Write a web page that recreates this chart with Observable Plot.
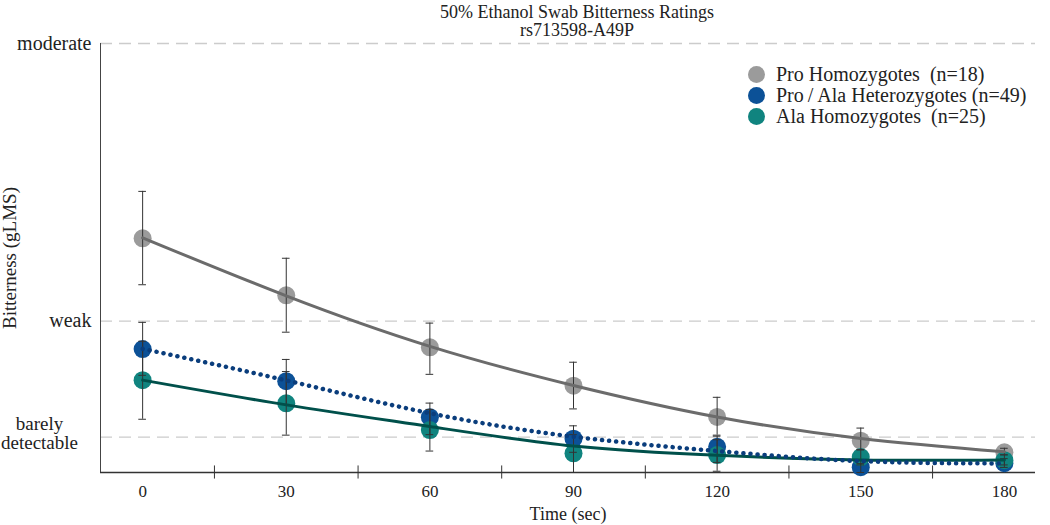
<!DOCTYPE html>
<html><head><meta charset="utf-8">
<script src="https://cdn.jsdelivr.net/npm/d3@7"></script>
<script src="https://cdn.jsdelivr.net/npm/@observablehq/plot@0.6"></script>
<style>
body{margin:0;background:#fff;}
#wrap{position:relative;width:1050px;height:525px;font-family:"Liberation Serif",serif;color:#222;}
.ttl{position:absolute;left:0;width:1154px;text-align:center;font-size:18px;line-height:18px;}
#legend{position:absolute;left:748px;top:64px;font-size:20px;line-height:21px;}
#legend .row{display:flex;align-items:center;white-space:pre;}
#legend .sw{width:17px;height:17px;border-radius:50%;margin-right:11px;}
</style></head>
<body><div id="wrap"></div>
<script>
const title = "50% Ethanol Swab Bitterness Ratings";
const subtitle = "rs713598-A49P";
const times = [0, 30, 60, 90, 120, 150, 180];
const minorTicks = [15, 45, 75, 105, 135, 165];
const groups = ["Pro Homozygotes", "Pro/Ala Heterozygotes", "Ala Homozygotes"];
const legendLabels = ["Pro Homozygotes  (n=18)", "Pro\u2009/\u2009Ala Heterozygotes (n=49)", "Ala Homozygotes  (n=25)"];
const yTickValues = [1.4, 6, 17];
const yTickLabels = ["barely\ndetectable", "weak", "moderate"];

// Pro homozygotes
const proMean = [9.28, 7.02, 4.96, 3.44, 2.2, 1.26, 0.8];
const proLo   = [7.44, 5.56, 3.89, 2.52, 1.48, 0.9, 0.7];
const proHi   = [11.14, 8.49, 5.92, 4.37, 2.98, 1.76, 0.96];
const proFit  = [9.3, 7.0, 5.0, 3.45, 2.2, 1.35, 0.82];
// Pro/Ala heterozygotes
const hetMean = [4.89, 3.62, 2.19, 1.34, 1.02, 0.21, 0.37];
const hetLo   = [3.85, 2.7, 1.5, 0.8, 0.4, 0.0, 0.2];
const hetHi   = [5.95, 4.48, 2.75, 1.85, 1.44, 0.35, 0.55];
const hetFit  = [4.9, 3.65, 2.35, 1.42, 0.85, 0.45, 0.36];
// Ala homozygotes
const alaMean = [3.66, 2.74, 1.68, 0.76, 0.69, 0.61, 0.49];
const alaLo   = [2.11, 1.48, 0.85, 0.0, 0.05, 0.3, 0.3];
const alaHi   = [5.2, 4.0, 2.5, 1.5, 1.3, 0.9, 0.7];
const alaFit  = [3.66, 2.68, 1.82, 1.05, 0.68, 0.5, 0.5];

const colors = ["#9b9b9b", "#0c5197", "#10847f"];
const lineColors = ["#6b6b6b", "#0a3d7c", "#00504b"];

const series = [[proMean, proLo, proHi, proFit], [hetMean, hetLo, hetHi, hetFit], [alaMean, alaLo, alaHi, alaFit]];
const rows = [];
series.forEach((s, i) => times.forEach((t, j) => rows.push({
  group: groups[i], gi: i, t, mean: s[0][j], lo: s[1][j], hi: s[2][j], fit: s[3][j]
})));

const wrap = document.getElementById("wrap");
const capHalf = 0.8;

const plot = Plot.plot({
  width: 1050, height: 525,
  marginTop: 43, marginBottom: 53, marginLeft: 100, marginRight: 15,
  style: {fontFamily: '"Liberation Serif", serif', color: "#222", background: "white"},
  x: {domain: [-8.8, 186.5]},
  y: {domain: [0, 17]},
  color: {domain: groups, range: colors},
  marks: [
    Plot.ruleY(yTickValues, {stroke: "#cccccc", strokeWidth: 1.3, strokeDasharray: "12,7"}),
    Plot.frame({anchor: "left", stroke: "#444", strokeWidth: 1}),
    Plot.ruleY([0], {stroke: "#333", strokeWidth: 1.3}),
    Plot.ruleX(minorTicks, {y1: -0.26, y2: 0.26, stroke: "#333", strokeWidth: 1}),
    Plot.axisX({ticks: times, tickSize: 0, tickPadding: 12, fontSize: 17, label: null}),
    Plot.axisX({ticks: [], tickSize: 0, fontSize: 18, label: "Time (sec)", labelAnchor: "center", labelOffset: 47, labelArrow: "none"}),
    Plot.axisY({ticks: [6, 17], tickFormat: d => yTickLabels[yTickValues.indexOf(d)], tickSize: 0, tickPadding: 9, fontSize: 20, label: null}),
    Plot.axisY({ticks: [], tickSize: 0, fontSize: 19, label: "Bitterness (gLMS)", labelAnchor: "center", labelOffset: 98, labelArrow: "none"}),
    Plot.axisY({ticks: [1.4], tickFormat: d => yTickLabels[yTickValues.indexOf(d)], tickSize: 0, textAnchor: "middle", dx: -52, dy: -4, fontSize: 19, label: null}),
    ...[0, 1, 2].map(i => Plot.dot(rows.filter(d => d.gi === i), {x: "t", y: "mean", r: 9, fill: colors[i]})),
    Plot.ruleX(rows, {x: "t", y1: "lo", y2: "hi", stroke: "#333", strokeWidth: 1}),
    Plot.ruleY(rows, {y: "lo", x1: d => d.t - capHalf, x2: d => d.t + capHalf, stroke: "#333", strokeWidth: 1}),
    Plot.ruleY(rows, {y: "hi", x1: d => d.t - capHalf, x2: d => d.t + capHalf, stroke: "#333", strokeWidth: 1}),
    Plot.line(rows.filter(d => d.gi === 0), {x: "t", y: "fit", stroke: lineColors[0], strokeWidth: 3, curve: "natural"}),
    Plot.line(rows.filter(d => d.gi === 2), {x: "t", y: "fit", stroke: lineColors[2], strokeWidth: 3, curve: "natural"}),
    Plot.line(rows.filter(d => d.gi === 1), {x: "t", y: "fit", stroke: lineColors[1], strokeWidth: 4.5, strokeDasharray: "0.1,7", strokeLinecap: "round", curve: "natural"})
  ]
});
wrap.appendChild(plot);

const t1 = document.createElement("div"); t1.className = "ttl"; t1.style.top = "3px"; t1.textContent = title; wrap.appendChild(t1);
const t2 = document.createElement("div"); t2.className = "ttl"; t2.style.top = "21px"; t2.textContent = subtitle; wrap.appendChild(t2);

const leg = document.createElement("div"); leg.id = "legend";
legendLabels.forEach((l, i) => {
  const r = document.createElement("div"); r.className = "row";
  const s = document.createElement("span"); s.className = "sw"; s.style.background = colors[i];
  const tx = document.createElement("span"); tx.textContent = l;
  r.appendChild(s); r.appendChild(tx); leg.appendChild(r);
});
wrap.appendChild(leg);
</script></body></html>
